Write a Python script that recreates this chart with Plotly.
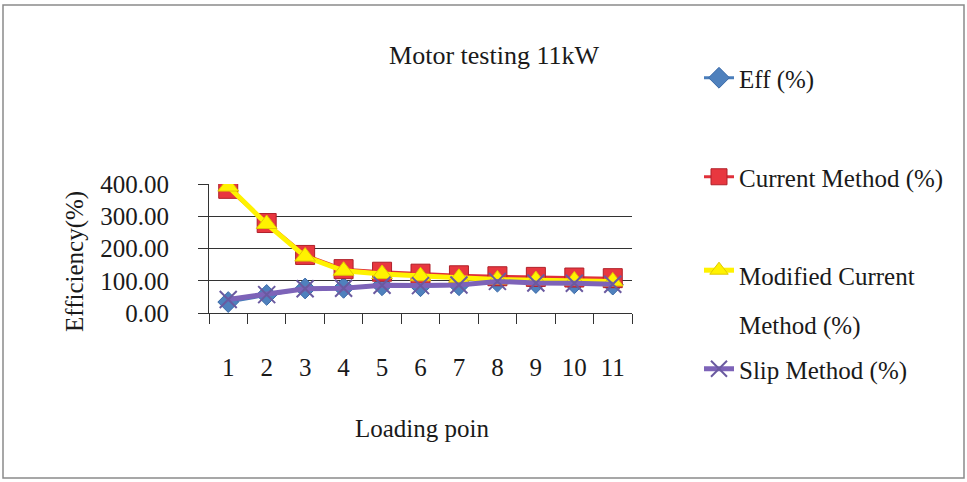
import plotly.graph_objects as go

W, H = 967, 482
categories = ["1", "2", "3", "4", "5", "6", "7", "8", "9", "10", "11"]
eff = [34, 56, 76, 78, 86, 83, 86, 97, 93, 92, 88]
current_method = [385, 279, 180, 136, 128, 122, 117, 114, 112, 110, 108]
modified_current = [392, 276, 175, 131, 121, 114, 109, 104, 102, 101, 98]
slip_method = [42, 57, 75, 77, 86, 85, 87, 98, 93, 92, 89]

FONT = "Liberation Serif, Times New Roman, serif"
TXT = "#1a1a1a"
FS = 25

ml, mr, mt, mb = 209, W - 632, 184, H - 313

fig = go.Figure()
fig.add_trace(go.Scatter(
    x=categories, y=eff, name="Eff (%)", mode="lines+markers",
    line=dict(color="#4A7EBB", width=3),
    marker=dict(symbol="diamond", size=16, color="#4F81BD", line=dict(color="#3A6AA8", width=1)),
    legend="legend"))
fig.add_trace(go.Scatter(
    x=categories, y=current_method, name="Current Method (%)", mode="lines+markers",
    line=dict(color="#E0303A", width=3),
    marker=dict(symbol="square", size=19, color="#E8373F", line=dict(color="#B0202A", width=1)),
    legend="legend2"))
fig.add_trace(go.Scatter(
    x=categories, y=modified_current,
    name=f"<span style='font-size:{FS}px'>Modified Current</span><br><span style='font-size:{FS}px'>Method (%)</span>",
    mode="lines+markers",
    line=dict(color="#FFF200", width=5),
    marker=dict(symbol="triangle-up", size=18, color="#FFF200", line=dict(color="#E0C800", width=1)),
    legend="legend3"))
fig.add_trace(go.Scatter(
    x=categories, y=slip_method, name="Slip Method (%)", mode="lines+markers",
    line=dict(color="#7D63B8", width=5),
    marker=dict(symbol="x-thin", size=17, color="#5A5A8A", line=dict(color="#6A5AA0", width=2)),
    legend="legend4"))

def leg(y, anchor="middle", size=FS, valign="middle"):
    return dict(xref="container", yref="container", xanchor="left", x=699 / W,
                y=1 - y / H, yanchor=anchor, valign=valign,
                font=dict(family=FONT, size=size, color=TXT), bgcolor="rgba(0,0,0,0)",
                itemwidth=30)

fig.update_layout(
    legend=leg(78),
    legend2=leg(177),
    legend3=leg(239, anchor="top", size=38, valign="top"),
    legend4=leg(369),
)

fig.update_layout(
    width=W, height=H,
    margin=dict(l=ml, r=mr, t=mt, b=mb, pad=0),
    paper_bgcolor="white", plot_bgcolor="white",
    font=dict(family=FONT, size=FS, color=TXT),
    title=dict(text="Motor testing 11kW", x=494 / W, xanchor="center",
               y=1 - 55 / H, yanchor="middle", font=dict(family=FONT, size=26, color=TXT)),
    showlegend=True,
)
fig.update_xaxes(
    type="category", tickson="boundaries", ticks="outside", ticklen=10, tickcolor="#333",
    showline=True, linecolor="#333", linewidth=1, showgrid=False,
    ticklabelstandoff=32, tickfont=dict(family=FONT, size=FS, color=TXT),
    range=[-0.5, 10.5],
)
fig.update_yaxes(
    range=[0, 400], dtick=100, tickformat=".2f", ticks="outside", ticklen=10, tickcolor="#333",
    showline=True, linecolor="#333", linewidth=1, showgrid=True, gridcolor="#333", gridwidth=1,
    zeroline=False, ticklabelstandoff=24, tickfont=dict(family=FONT, size=FS, color=TXT),
)
pw, ph = W - ml - mr, H - mt - mb
fig.add_annotation(text="Efficiency(%)", xref="paper", yref="paper", textangle=-90,
                   x=(75 - ml) / pw, y=(313 - 262) / ph,
                   showarrow=False, font=dict(family=FONT, size=FS, color=TXT),
                   xanchor="center", yanchor="middle")
fig.add_annotation(text="Loading poin", xref="paper", yref="paper",
                   x=(422 - ml) / pw, y=(313 - 428) / ph,
                   showarrow=False, font=dict(family=FONT, size=FS, color=TXT),
                   xanchor="center", yanchor="middle")
fig.add_shape(type="rect", xref="paper", yref="paper",
              x0=(3 - ml) / pw, x1=(964 - ml) / pw, y0=(313 - 478) / ph, y1=(313 - 5) / ph,
              line=dict(color="#8a8a8a", width=1.5), layer="below")

fig.write_html("out.html")
